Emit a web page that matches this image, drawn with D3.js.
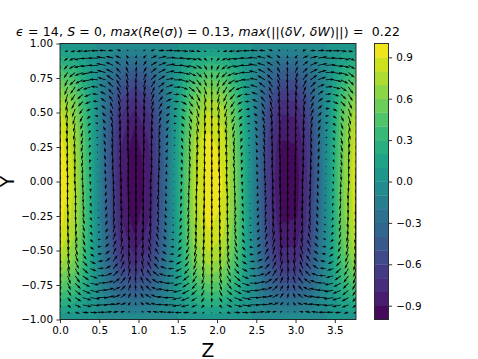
<!DOCTYPE html>
<html>
<head>
<meta charset="utf-8">
<script src="https://cdnjs.cloudflare.com/ajax/libs/d3/7.8.5/d3.min.js"></script>
<style>
    html, body { margin: 0; padding: 0; background: #fff; }
    svg { display: block; }
    text { font-family: "DejaVu Sans", sans-serif; fill: #000; }
</style>
</head>
<body>
<svg id="chart" width="478" height="359"></svg>
<script>
// tick labels
const zTicks = [0, 0.5, 1, 1.5, 2, 2.5, 3, 3.5];
const yTicks = [-1, -0.75, -0.5, -0.25, 0, 0.25, 0.5, 0.75, 1];
const barTicks = [-0.9, -0.6, -0.3, 0, 0.3, 0.6, 0.9];
const zMax = 3.77;

// contour levels of the filled field
const levels = [-1, -0.9, -0.8, -0.7, -0.6, -0.5, -0.4, -0.3, -0.2, -0.1, 0, 0.1, 0.2, 0.3, 0.4, 0.5, 0.6, 0.7, 0.8, 0.9, 1];

// filled field, rows y = 1.0 down to y = 0.0, 21 columns over Z
const fieldRows = [
    [.02,.02,.01,-.01,-.02,-.02,-.02,-.01,0,.01,.02,.02,.01,0,-.01,-.02,-.02,-.01,0,.01,.02],
    [.22,.17,.06,-.07,-.18,-.22,-.19,-.09,.04,.16,.22,.20,.11,-.02,-.14,-.21,-.21,-.13,-.01,.12,.20],
    [.42,.33,.12,-.13,-.34,-.42,-.35,-.16,.08,.30,.41,.38,.21,-.03,-.27,-.40,-.40,-.25,-.02,.22,.39],
    [.58,.45,.16,-.18,-.46,-.58,-.49,-.23,.12,.42,.57,.52,.29,-.05,-.37,-.56,-.55,-.35,-.03,.31,.53],
    [.72,.56,.20,-.23,-.58,-.72,-.61,-.28,.14,.52,.71,.65,.36,-.06,-.45,-.69,-.68,-.43,-.03,.38,.66],
    [.82,.63,.23,-.26,-.66,-.82,-.69,-.32,.16,.59,.81,.74,.41,-.06,-.52,-.79,-.78,-.49,-.04,.44,.75],
    [.89,.69,.25,-.28,-.71,-.89,-.75,-.35,.18,.64,.88,.80,.45,-.07,-.56,-.85,-.84,-.54,-.04,.47,.82],
    [.94,.73,.26,-.30,-.75,-.94,-.79,-.37,.19,.68,.93,.85,.47,-.07,-.59,-.90,-.89,-.57,-.04,.50,.86],
    [.97,.75,.27,-.31,-.78,-.97,-.82,-.38,.19,.70,.96,.88,.49,-.08,-.61,-.93,-.92,-.58,-.04,.52,.89],
    [.99,.77,.27,-.31,-.79,-.99,-.84,-.39,.20,.71,.98,.89,.50,-.08,-.62,-.95,-.94,-.60,-.04,.53,.91],
    [1.0,.77,.28,-.32,-.80,-1.0,-.85,-.39,.20,.72,.99,.90,.50,-.08,-.63,-.96,-.95,-.60,-.04,.53,.92]
];

// arrow components in hundredths, rows y = 1.0 down to y = 0.0, 40 columns over Z
const deltaV = [
    [0,0,0,0,0,0,0,0,0,0,0,0,0,0,0,0,0,0,0,0,0,0,0,0,0,0,0,0,0,0,0,0,0,0,0,0,0,0,0,0],
    [-2,-2,-2,-1,-1,0,1,1,2,2,2,2,2,1,1,0,-1,-1,-2,-2,-2,-2,-2,-1,-1,0,1,1,2,2,2,2,2,1,1,0,0,-1,-2,-2],
    [-5,-5,-4,-3,-1,0,2,3,4,5,5,5,4,3,1,0,-2,-3,-4,-5,-5,-5,-4,-3,-2,0,1,3,4,5,5,5,4,3,2,0,-1,-3,-4,-5],
    [-8,-7,-6,-4,-2,0,3,5,7,8,8,8,6,5,2,0,-3,-5,-6,-8,-8,-8,-7,-5,-3,0,2,4,6,8,8,8,7,5,3,1,-2,-4,-6,-7],
    [-10,-9,-8,-5,-3,1,4,6,8,10,10,9,8,6,3,0,-3,-6,-8,-10,-10,-10,-8,-6,-3,0,3,6,8,9,10,10,8,6,4,1,-2,-5,-8,-9],
    [-12,-11,-9,-6,-3,1,4,8,10,12,12,11,9,7,3,0,-4,-7,-10,-11,-12,-12,-10,-7,-4,0,3,7,9,11,12,12,10,8,5,1,-3,-6,-9,-11],
    [-14,-13,-11,-7,-4,1,5,9,12,13,14,13,11,8,4,0,-4,-8,-11,-13,-14,-13,-11,-9,-5,0,4,8,11,13,14,14,12,9,5,1,-3,-7,-11,-13],
    [-15,-14,-11,-8,-4,1,5,9,13,14,15,14,12,9,4,0,-5,-9,-12,-14,-15,-14,-12,-9,-5,0,4,8,12,14,15,15,13,10,6,1,-3,-8,-11,-14],
    [-16,-15,-12,-8,-4,1,6,10,13,15,16,15,13,9,5,0,-5,-9,-13,-15,-16,-15,-13,-10,-5,0,4,9,12,15,16,16,13,10,6,1,-4,-8,-12,-15],
    [-17,-16,-13,-9,-4,1,6,11,14,16,17,16,13,10,5,0,-5,-10,-14,-16,-17,-16,-14,-10,-6,-1,5,10,13,16,17,16,14,11,6,1,-4,-9,-13,-16],
    [-18,-17,-14,-10,-5,1,6,11,15,17,18,17,14,10,5,0,-6,-11,-15,-17,-18,-17,-15,-11,-6,-1,5,10,14,17,18,17,15,12,7,1,-4,-9,-14,-17],
    [-19,-18,-14,-10,-5,1,7,12,16,18,19,18,15,11,6,0,-6,-11,-15,-18,-19,-18,-16,-12,-6,-1,5,11,15,18,19,18,16,12,7,2,-4,-10,-14,-17],
    [-20,-19,-15,-11,-5,1,7,13,17,19,20,19,16,11,6,0,-6,-12,-16,-19,-20,-19,-16,-12,-7,-1,6,11,16,19,20,19,17,13,8,2,-5,-10,-15,-18],
    [-21,-20,-16,-11,-5,1,8,13,18,20,21,20,17,12,6,0,-7,-12,-17,-20,-21,-20,-17,-13,-7,-1,6,12,16,20,21,20,18,13,8,2,-5,-11,-16,-19],
    [-21,-20,-16,-11,-5,1,8,13,18,20,21,20,17,12,6,0,-7,-12,-17,-20,-21,-20,-17,-13,-7,-1,6,12,16,20,21,20,18,13,8,2,-5,-11,-16,-19],
    [-22,-20,-17,-12,-6,1,8,14,18,21,22,21,17,13,6,0,-7,-13,-18,-21,-22,-21,-18,-13,-7,-1,6,12,17,21,22,21,18,14,8,2,-5,-11,-17,-20],
    [-22,-20,-17,-12,-6,1,8,14,18,21,22,21,17,13,6,0,-7,-13,-18,-21,-22,-21,-18,-13,-7,-1,6,12,17,21,22,21,18,14,8,2,-5,-11,-17,-20],
    [-22,-20,-17,-12,-6,1,8,14,18,21,22,21,17,13,6,0,-7,-13,-18,-21,-22,-21,-18,-13,-7,-1,6,12,17,21,22,21,18,14,8,2,-5,-11,-17,-20],
    [-22,-20,-17,-12,-6,1,8,14,18,21,22,21,17,13,6,0,-7,-13,-18,-21,-22,-21,-18,-13,-7,-1,6,12,17,21,22,21,18,14,8,2,-5,-11,-17,-20],
    [-22,-20,-17,-12,-6,1,8,14,18,21,22,21,17,13,6,0,-7,-13,-18,-21,-22,-21,-18,-13,-7,-1,6,12,17,21,22,21,18,14,8,2,-5,-11,-17,-20]
];
const deltaW = [
    [0,0,0,0,0,0,0,0,0,0,0,0,0,0,0,0,0,0,0,0,0,0,0,0,0,0,0,0,0,0,0,0,0,0,0,0,0,0,0,0],
    [-1,-5,-8,-10,-12,-12,-11,-9,-7,-3,0,4,7,10,12,12,11,10,7,4,0,-4,-7,-10,-11,-12,-12,-10,-7,-4,-1,3,6,9,11,12,12,10,8,5],
    [-1,-6,-10,-14,-16,-16,-15,-12,-9,-4,1,5,10,13,15,16,15,13,9,5,0,-5,-9,-13,-15,-16,-15,-13,-10,-6,-1,4,9,12,15,16,16,14,11,6],
    [-1,-6,-10,-14,-16,-16,-15,-12,-9,-4,1,5,10,13,15,16,15,13,9,5,0,-5,-9,-13,-15,-16,-15,-13,-10,-6,-1,4,9,12,15,16,16,14,11,6],
    [-1,-6,-10,-13,-15,-15,-14,-12,-8,-4,1,5,9,12,14,15,14,12,9,5,0,-5,-9,-12,-14,-15,-14,-12,-9,-5,-1,4,8,12,14,15,15,13,10,6],
    [-1,-5,-9,-12,-14,-14,-13,-11,-8,-4,1,5,9,11,13,14,13,11,8,4,0,-4,-8,-11,-13,-14,-13,-12,-9,-5,-1,4,8,11,13,14,14,12,9,6],
    [-1,-5,-8,-10,-12,-12,-11,-9,-7,-3,0,4,7,10,12,12,11,10,7,4,0,-4,-7,-10,-11,-12,-12,-10,-7,-4,-1,3,6,9,11,12,12,10,8,5],
    [-1,-4,-7,-9,-10,-10,-9,-8,-6,-3,0,3,6,8,10,10,10,8,6,3,0,-3,-6,-8,-9,-10,-10,-8,-6,-4,-1,3,5,8,9,10,10,9,7,4],
    [-1,-3,-6,-8,-9,-9,-8,-7,-5,-2,0,3,5,7,9,9,9,7,5,3,0,-3,-5,-7,-8,-9,-9,-7,-6,-3,0,2,5,7,8,9,9,8,6,4],
    [-1,-3,-5,-6,-7,-7,-7,-5,-4,-2,0,2,4,6,7,7,7,6,4,2,0,-2,-4,-6,-7,-7,-7,-6,-4,-3,0,2,4,5,7,7,7,6,5,3],
    [0,-2,-4,-5,-6,-6,-6,-5,-3,-2,0,2,4,5,6,6,6,5,4,2,0,-2,-3,-5,-6,-6,-6,-5,-4,-2,0,2,3,5,6,6,6,5,4,2],
    [0,-2,-3,-4,-5,-5,-5,-4,-3,-1,0,2,3,4,5,5,5,4,3,2,0,-2,-3,-4,-5,-5,-5,-4,-3,-2,0,1,3,4,5,5,5,4,3,2],
    [0,-2,-3,-3,-4,-4,-4,-3,-2,-1,0,1,2,3,4,4,4,3,2,1,0,-1,-2,-3,-4,-4,-4,-3,-2,-1,0,1,2,3,4,4,4,3,3,2],
    [0,-1,-2,-3,-3,-3,-3,-2,-2,-1,0,1,2,2,3,3,3,2,2,1,0,-1,-2,-2,-3,-3,-3,-2,-2,-1,0,1,2,2,3,3,3,3,2,1],
    [0,-1,-2,-3,-3,-3,-3,-2,-2,-1,0,1,2,2,3,3,3,2,2,1,0,-1,-2,-2,-3,-3,-3,-2,-2,-1,0,1,2,2,3,3,3,3,2,1],
    [0,-1,-1,-2,-2,-2,-2,-2,-1,-1,0,1,1,2,2,2,2,2,1,1,0,-1,-1,-2,-2,-2,-2,-2,-1,-1,0,1,1,2,2,2,2,2,1,1],
    [0,-1,-1,-2,-2,-2,-2,-2,-1,-1,0,1,1,2,2,2,2,2,1,1,0,-1,-1,-2,-2,-2,-2,-2,-1,-1,0,1,1,2,2,2,2,2,1,1],
    [0,0,-1,-1,-1,-1,-1,-1,-1,0,0,0,1,1,1,1,1,1,1,0,0,0,-1,-1,-1,-1,-1,-1,-1,0,0,0,1,1,1,1,1,1,1,0],
    [0,0,-1,-1,-1,-1,-1,-1,-1,0,0,0,1,1,1,1,1,1,1,0,0,0,-1,-1,-1,-1,-1,-1,-1,0,0,0,1,1,1,1,1,1,1,0],
    [0,0,0,0,0,0,0,0,0,0,0,0,0,0,0,0,0,0,0,0,0,0,0,0,0,0,0,0,0,0,0,0,0,0,0,0,0,0,0,0]
];

// title pieces, italic ones are the math variables
const titleParts = [
    ['\u03f5', true], [' = 14, ', false], ['S', true], [' = 0, ', false], ['max', true], ['(', false],
    ['Re', true], ['(', false], ['\u03c3', true], [')) = 0.13, ', false], ['max', true], ['(||(', false],
    ['\u03b4V', true], [', ', false], ['\u03b4W', true], [')||) =  0.22', false]
];

const svg = d3.select('#chart');
const plot = { left: 60, right: 356, top: 43.5, bottom: 319.5 };
const bar = { left: 374.5, right: 388.5 };

const x = d3.scaleLinear().domain([0, zMax]).range([plot.left, plot.right]);
const y = d3.scaleLinear().domain([-1, 1]).range([plot.bottom, plot.top]);
const barY = d3.scaleLinear().domain([-1, 1]).range([plot.bottom, plot.top]);
const arrowLen = d3.scaleLinear().domain([0, 22]).range([0, 14]);

function bandColor(i) {
    return d3.interpolateViridis((i + 0.5) / (levels.length - 1));
}

svg.append('clipPath').attr('id', 'plot-clip')
    .append('rect')
    .attr('x', plot.left).attr('y', plot.top)
    .attr('width', plot.right - plot.left).attr('height', plot.bottom - plot.top);

// lower half of the channel mirrors the upper half in the picture
const fullRows = fieldRows.concat(fieldRows.slice(0, -1).reverse());
const nx = fullRows[0].length;
const ny = fullRows.length;

//contour bands
let contours = d3.contours()
    .size([nx, ny])
    .thresholds(levels.slice(0, -1));
let bands = contours(fullRows.flat());

const toScreen = d3.geoTransform({
    point: function(cx, cy) {
        const z = (cx - 0.5) / (nx - 1) * zMax;
        const yy = 1 - (cy - 0.5) / (ny - 1) * 2;
        this.stream.point(x(z), y(yy));
    }
});
const bandPath = d3.geoPath(toScreen);

svg.append('g')
    .attr('clip-path', 'url(#plot-clip)')
    .selectAll('path')
    .data(bands)
    .join('path')
    .attr('d', bandPath)
    .attr('fill', (d, i) => bandColor(i))
    .attr('stroke', (d, i) => bandColor(i))
    .attr('stroke-width', 0.3);

// quiver arrows, shape follows matplotlib's default head proportions
const shaft = 0.8;
function arrowShape(len) {
    if (len < shaft) {
        const r = shaft / 2;
        return `M${-r},0L0,${-r}L${r},0L0,${r}Z`;
    }
    const k = Math.min(1, len / (5 * shaft));
    const w = shaft * k / 2;
    const hw = 1.5 * shaft * k;
    const hl = 5 * shaft * k;
    const ax = 4.5 * shaft * k;
    return `M0,${-w}L${len - ax},${-w}L${len - hl},${-hw}L${len},0L${len - hl},${hw}L${len - ax},${w}L0,${w}Z`;
}

const arrows = [];
const nRows = deltaV.length * 2 - 1;
for (let j = 0; j < nRows; j++) {
    const lower = j >= deltaV.length;
    const row = lower ? nRows - 1 - j : j;
    deltaV[row].forEach((v, i) => {
        arrows.push({
            z: i / (deltaV[row].length - 1) * zMax,
            y: 1 - j / (nRows - 1) * 2,
            v: v,
            w: lower ? -deltaW[row][i] : deltaW[row][i]
        });
    });
}

svg.append('g')
    .attr('clip-path', 'url(#plot-clip)')
    .selectAll('path')
    .data(arrows)
    .join('path')
    .attr('d', d => arrowShape(arrowLen(Math.hypot(d.v, d.w))))
    .attr('transform', d => `translate(${x(d.z)},${y(d.y)}) rotate(${Math.atan2(-d.v, d.w) * 180 / Math.PI})`)
    .attr('fill', '#000');

// axes
const xAxis = d3.axisBottom(x).tickValues(zTicks).tickFormat(d3.format('.1f')).tickSize(3.6).tickPadding(3.6);
const yAxis = d3.axisLeft(y).tickValues(yTicks).tickFormat(d3.format('.2f')).tickSize(3.6).tickPadding(3.4);

function styleAxis(g) {
    g.attr('font-size', null).attr('font-family', null);
    g.selectAll('text').style('font-size', '10.4px');
    g.selectAll('line').attr('stroke', '#000').attr('stroke-width', 0.8);
    g.select('.domain').remove();
}

svg.append('g').attr('transform', `translate(0,${plot.bottom})`).call(xAxis).call(styleAxis);
svg.append('g').attr('transform', `translate(${plot.left},0)`).call(yAxis).call(styleAxis);

svg.append('rect')
    .attr('x', plot.left).attr('y', plot.top)
    .attr('width', plot.right - plot.left).attr('height', plot.bottom - plot.top)
    .attr('fill', 'none').attr('stroke', '#222').attr('stroke-width', 0.9);

// colorbar
svg.append('g')
    .selectAll('rect')
    .data(levels.slice(0, -1))
    .join('rect')
    .attr('x', bar.left)
    .attr('width', bar.right - bar.left)
    .attr('y', (d, i) => barY(levels[i + 1]))
    .attr('height', (d, i) => barY(levels[i]) - barY(levels[i + 1]) + 0.3)
    .attr('fill', (d, i) => bandColor(i));

const barAxis = d3.axisRight(barY).tickValues(barTicks).tickFormat(d3.format('.1f')).tickSize(3.6).tickPadding(4.2);
svg.append('g').attr('transform', `translate(${bar.right},0)`).call(barAxis).call(styleAxis);

svg.append('rect')
    .attr('x', bar.left).attr('y', plot.top)
    .attr('width', bar.right - bar.left).attr('height', plot.bottom - plot.top)
    .attr('fill', 'none').attr('stroke', '#222').attr('stroke-width', 0.9);

// title and axis labels
const title = svg.append('text')
    .attr('x', (plot.left + plot.right) / 2)
    .attr('y', 36)
    .attr('text-anchor', 'middle')
    .attr('textLength', 384)
    .attr('lengthAdjust', 'spacing')
    .style('font-size', '12.45px')
    .style('white-space', 'pre');

title.selectAll('tspan')
    .data(titleParts)
    .join('tspan')
    .style('font-style', d => d[1] ? 'italic' : 'normal')
    .text(d => d[0]);

svg.append('text')
    .attr('x', (plot.left + plot.right) / 2)
    .attr('y', 356.5)
    .attr('text-anchor', 'middle')
    .style('font-size', '18.7px')
    .text('Z');

svg.append('text')
    .attr('transform', `translate(13.5,${(plot.top + plot.bottom) / 2}) rotate(-90)`)
    .attr('text-anchor', 'middle')
    .style('font-size', '18.7px')
    .text('Y');
</script>
</body>
</html>
